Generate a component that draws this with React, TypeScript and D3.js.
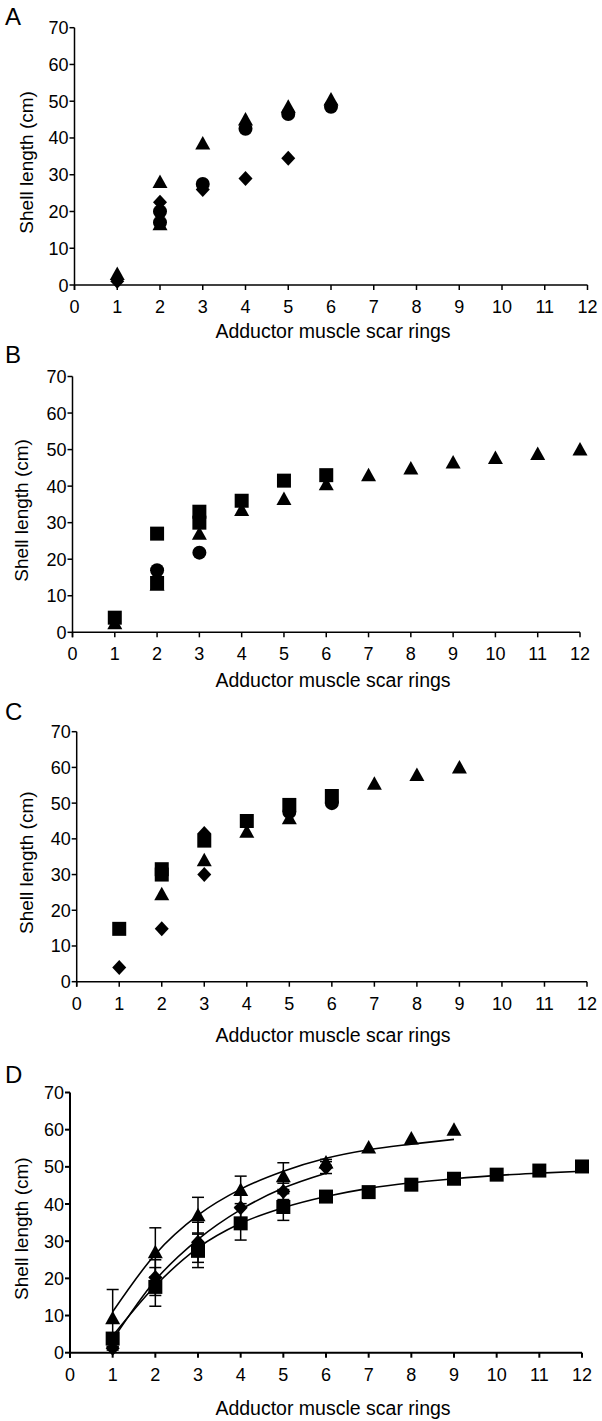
import React from 'react';
import * as d3 from 'd3';

type Pt = [number, number];

// shared axes
const rings = d3.range(0, 13);
const lengthTicks = d3.range(0, 80, 10);

// panel A
const aTriangles: Pt[] = [[1, 3], [2, 28], [2, 16.5], [3, 38.5], [4, 45], [5, 48.5], [6, 50.5]];
const aCircles: Pt[] = [[2, 20], [2, 17], [3, 27.5], [4, 42.5], [5, 46.5], [6, 48.5]];
const aDiamonds: Pt[] = [[1, 1], [2, 22.5], [3, 26], [4, 29], [5, 34.5]];

// panel B
const bSquares: Pt[] = [[1, 4], [2, 27], [2, 13.5], [3, 33], [3, 30], [4, 36], [5, 41.5], [6, 43]];
const bTriangles: Pt[] = [[1, 2.5], [2, 13], [3, 27], [4, 33.5], [5, 36.5], [6, 40.5], [7, 43],
  [8, 44.8], [9, 46.5], [10, 47.7], [11, 48.8], [12, 50]];
const bCircles: Pt[] = [[2, 17], [3, 21.8]];

// panel C
const cSquares: Pt[] = [[1, 14.8], [2, 31.5], [2, 30], [3, 39.5], [4, 45], [5, 49.5], [6, 52]];
const cTriangles: Pt[] = [[2, 24.5], [3, 34], [4, 42], [5, 45.8], [7, 55.4], [8, 57.9], [9, 60]];
const cDiamonds: Pt[] = [[1, 4], [2, 14.8], [3, 41.5], [3, 30]];
const cCircles: Pt[] = [[5, 47.5], [6, 50]];

// panel D - means, SD and fitted curve read at each ring
const dTriMean = [9.3, 27, 37, 43.8, 47.5, 51.2, 55.2, 57.6, 60];
const dTriSD = [7.7, 6.6, 4.8, 3.7, 3.6, 0.8, 0, 0, 0];
const dTriFit = [11, 26.5, 37, 44, 48.8, 52.3, 54.6, 56.1, 57.4];
const dDiaMean = [1.2, 20.2, 29.7, 39, 43.4, 49.8];
const dDiaSD = [0.5, 4.8, 5.4, 3.5, 2.2, 1.6];
const dDiaFit = [3.5, 19.5, 30.5, 38.5, 44.3, 48.3];
const dSqMean = [3.8, 17.7, 27.4, 34.8, 39.2, 42, 43.2, 45.2, 46.8, 47.9, 49, 50.1];
const dSqSD = [1, 5.2, 4.5, 4.5, 3.6, 0.5, 0, 0, 0, 0, 0, 0];
const dSqFit = [4.5, 18, 28.2, 34.8, 39, 42, 44.2, 45.7, 46.8, 47.7, 48.3, 48.8];

const FONT = '"Liberation Sans", Arial, sans-serif';

const markerPath = (shape: string) => {
  switch (shape) {
    case 'triangle': return 'M0,-7.5L7.5,6L-7.5,6Z';
    case 'square': return 'M-7,-7H7V7H-7Z';
    case 'diamond': return 'M0,-7.5L7,0L0,7.5L-7,0Z';
    default: return d3.symbol(d3.symbolCircle, Math.PI * 49)() as string;
  }
};

const toPts = (vals: number[]): Pt[] => vals.map((v, i) => [i + 1, v]);

const panels = [
  { letter: 'A', x0: 74.5, x1: 587.5, yTop: 27.7, yBot: 285, letterY: 25, yTitleX: 33, xTitleY: 338, axisW: 1.5,
    series: [{ shape: 'triangle', pts: aTriangles }, { shape: 'circle', pts: aCircles }, { shape: 'diamond', pts: aDiamonds }] },
  { letter: 'B', x0: 72.5, x1: 580, yTop: 376.5, yBot: 632.3, letterY: 363, yTitleX: 28, xTitleY: 687, axisW: 1.5,
    series: [{ shape: 'triangle', pts: bTriangles }, { shape: 'circle', pts: bCircles }, { shape: 'square', pts: bSquares }] },
  { letter: 'C', x0: 76.7, x1: 587, yTop: 731.7, yBot: 981.7, letterY: 720, yTitleX: 33, xTitleY: 1042, axisW: 1.5,
    series: [{ shape: 'triangle', pts: cTriangles }, { shape: 'circle', pts: cCircles }, { shape: 'diamond', pts: cDiamonds }, { shape: 'square', pts: cSquares }] },
  { letter: 'D', x0: 70, x1: 582, yTop: 1092.5, yBot: 1352.7, letterY: 1083, yTitleX: 28, xTitleY: 1415, axisW: 2,
    series: [
      { shape: 'triangle', pts: toPts(dTriMean), sd: dTriSD, fit: toPts(dTriFit) },
      { shape: 'diamond', pts: toPts(dDiaMean), sd: dDiaSD, fit: toPts(dDiaFit) },
      { shape: 'square', pts: toPts(dSqMean), sd: dSqSD, fit: toPts(dSqFit) },
    ] },
];

function Panel({ p }: { p: any }) {
  const x = d3.scaleLinear().domain([0, 12]).range([p.x0, p.x1]);
  const y = d3.scaleLinear().domain([0, 70]).range([p.yBot, p.yTop]);
  const line = d3.line<Pt>().x(d => x(d[0])).y(d => y(d[1])).curve(d3.curveMonotoneX);
  const midY = (p.yTop + p.yBot) / 2 + 6;

  return (
    <g>
      <text x={5} y={p.letterY} fontSize={24} fontFamily={FONT}>{p.letter}</text>

      {/* error bars */}
      {p.series.filter((s: any) => s.sd).map((s: any, si: number) =>
        s.pts.map((d: Pt, i: number) => s.sd[i] > 0 ? (
          <g key={`e${si}-${i}`} stroke="#000" strokeWidth={1.5}>
            <line x1={x(d[0])} x2={x(d[0])} y1={y(d[1] - s.sd[i])} y2={y(d[1] + s.sd[i])} />
            <line x1={x(d[0]) - 6} x2={x(d[0]) + 6} y1={y(d[1] + s.sd[i])} y2={y(d[1] + s.sd[i])} />
            <line x1={x(d[0]) - 6} x2={x(d[0]) + 6} y1={y(d[1] - s.sd[i])} y2={y(d[1] - s.sd[i])} />
          </g>
        ) : null))}

      {/* fitted growth curves */}
      {p.series.filter((s: any) => s.fit).map((s: any, si: number) => (
        <path key={`f${si}`} d={line(s.fit) as string} fill="none" stroke="#000" strokeWidth={1.6} />
      ))}

      {/* axes */}
      <g stroke="#000" strokeWidth={p.axisW}>
        <line x1={p.x0} x2={p.x0} y1={p.yTop} y2={p.yBot + 5} />
        <line x1={p.x0} x2={p.x1} y1={p.yBot} y2={p.yBot} />
        {lengthTicks.map(t => <line key={`yt${t}`} x1={p.x0 - 5} x2={p.x0} y1={y(t)} y2={y(t)} />)}
        {rings.map(r => <line key={`xt${r}`} x1={x(r)} x2={x(r)} y1={p.yBot} y2={p.yBot + 5} />)}
      </g>
      <g fontFamily={FONT} fontSize={18} fill="#000">
        {lengthTicks.map(t => (
          <text key={`yl${t}`} x={p.x0 - 6} y={y(t) + 6.5} textAnchor="end">{t}</text>
        ))}
        {rings.map(r => (
          <text key={`xl${r}`} x={x(r)} y={p.yBot + 28} textAnchor="middle">{r}</text>
        ))}
      </g>
      <text x={333} y={p.xTitleY} textAnchor="middle" fontFamily={FONT} fontSize={19.5}>Adductor muscle scar rings</text>
      <text transform={`translate(${p.yTitleX},${midY}) rotate(-90)`} textAnchor="middle" fontFamily={FONT} fontSize={19}>Shell length (cm)</text>

      {/* markers */}
      {p.series.map((s: any, si: number) =>
        s.pts.map((d: Pt, i: number) => (
          <path key={`m${si}-${i}`} d={markerPath(s.shape)} transform={`translate(${x(d[0])},${y(d[1])})`} fill="#000" />
        )))}
    </g>
  );
}

export default function App() {
  return (
    <svg width={602} height={1421} style={{ position: 'absolute', left: 0, top: 0, background: '#fff' }}>
      <rect width={602} height={1421} fill="#fff" />
      {panels.map(p => <Panel key={p.letter} p={p} />)}
    </svg>
  );
}
